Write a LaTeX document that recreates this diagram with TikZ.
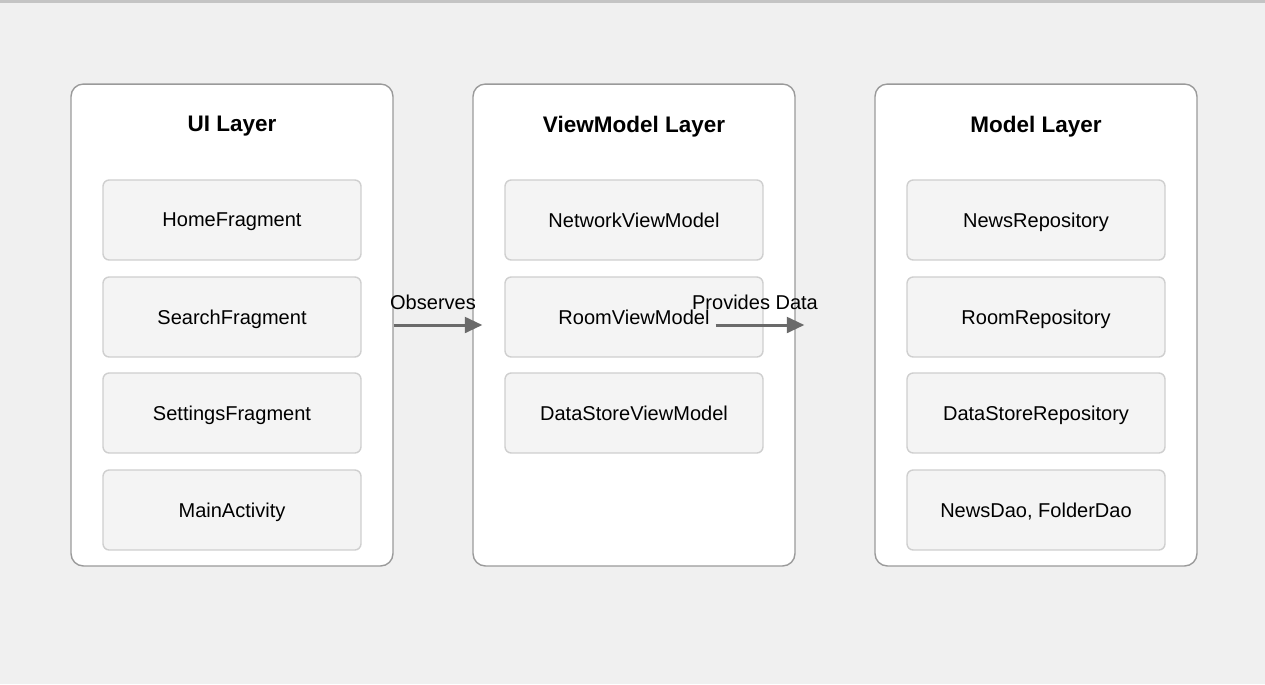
\documentclass[tikz,border=0pt]{standalone}
\usepackage{fontspec}
\setmainfont{Liberation Sans}
\usepackage{tikz}
\usetikzlibrary{arrows.meta}

\definecolor{canvas}{HTML}{F0F0F0}
\definecolor{topline}{HTML}{C4C4C4}
\definecolor{layerline}{HTML}{9A9A9A}
\definecolor{itemfill}{HTML}{F4F4F4}
\definecolor{itemline}{HTML}{CFCFCF}
\definecolor{flowgray}{HTML}{6A6A6A}

\tikzset{
  layerbox/.style = {draw = layerline, fill = white, line width = 0.8pt, rounded corners = 7pt,
                     minimum width = 6.44cm, minimum height = 9.64cm},
  layertitle/.style = {font = \fontsize{12.8}{15}\selectfont\bfseries, text depth = 0pt},
  itembox/.style = {draw = itemline, fill = itemfill, line width = 0.8pt, rounded corners = 3.5pt,
                    minimum width = 5.16cm, minimum height = 1.6cm, text depth = 0pt,
                    font = \fontsize{11.4}{14}\selectfont},
  flow/.style = {-{Triangle[length = 10pt, width = 9pt]}, flowgray, line width = 1.7pt},
  flowlabel/.style = {text = black, font = \fontsize{11.4}{14}\selectfont}
}

\begin{document}
\begin{tikzpicture}[x = 0.02cm, y = -0.02cm]
    \fill[canvas] (0,0) rectangle (1265,684);
    \fill[topline] (0,0) rectangle (1265,3);
    \useasboundingbox (0,0) rectangle (1265,684);

    % layers
    \node[layerbox](ui) at (232,325) {};
    \node[layerbox](vm) at (634,325) {};
    \node[layerbox](model) at (1036,325) {};

    \node[layertitle](uiTitle) at (232,124) {UI Layer};
    \node[layertitle](vmTitle) at (634,124) {ViewModel Layer};
    \node[layertitle](modelTitle) at (1036,124) {Model Layer};

    % UI layer
    \node[itembox](homeFragment) at (232,220) {HomeFragment};
    \node[itembox](searchFragment) at (232,317) {SearchFragment};
    \node[itembox](settingsFragment) at (232,413) {SettingsFragment};
    \node[itembox](mainActivity) at (232,510) {MainActivity};

    % ViewModel layer
    \node[itembox](networkVM) at (634,220) {NetworkViewModel};
    \node[itembox](roomVM) at (634,317) {RoomViewModel};
    \node[itembox](dataStoreVM) at (634,413) {DataStoreViewModel};

    % Model layer
    \node[itembox](newsRepo) at (1036,220) {NewsRepository};
    \node[itembox](roomRepo) at (1036,317) {RoomRepository};
    \node[itembox](dataStoreRepo) at (1036,413) {DataStoreRepository};
    \node[itembox](daos) at (1036,510) {NewsDao, FolderDao};

    \coordinate (observeEnd) at ([xshift = 10*0.02cm]vm.west);
    \coordinate (provideStart) at ([xshift = -80*0.02cm]vm.east);
    \coordinate (provideEnd) at ([xshift = -70*0.02cm]model.west);

    \draw [flow] (ui.east) -- node[flowlabel, above = 4.7pt, xshift = -0.1cm]{Observes} (observeEnd);
    \draw [flow] (provideStart) -- node[flowlabel, above = 4.7pt, xshift = -0.1cm]{Provides Data} (provideEnd);
\end{tikzpicture}
\end{document}
